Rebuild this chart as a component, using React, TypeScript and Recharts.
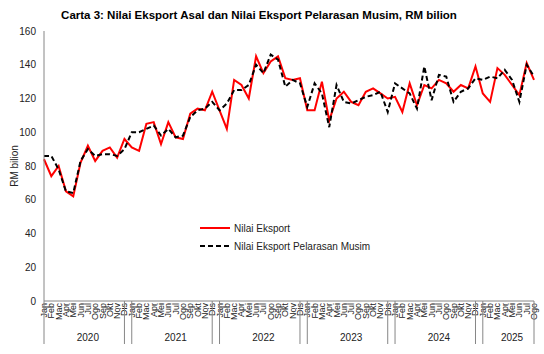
import { Legend, Line, LineChart, XAxis, YAxis } from "recharts";

const years = ["2020", "2021", "2022", "2023", "2024", "2025"];
const monthNames = ["Jan", "Feb", "Mac", "Apr", "Mei", "Jun", "Jul", "Ogo", "Sep", "Okt", "Nov", "Dis"];
const monthsPerYear = [12, 12, 12, 12, 12, 8];

// Nilai Eksport (asal), RM bilion
const nilaiEksport = [
  84, 74, 80, 65, 62, 82, 92, 83, 89, 91, 85, 96,
  91, 89, 105, 106, 93, 106, 97, 96, 111, 114, 113, 124,
  113, 102, 131, 128, 120, 145, 135, 142, 145, 132, 131, 132,
  113, 113, 130, 107, 120, 124, 118, 116, 124, 126, 123, 120,
  121, 112, 129, 116, 128, 126, 131, 129, 124, 128, 126, 139,
  123, 118, 138, 134, 128, 122, 141, 131,
];

// Nilai Eksport Pelarasan Musim, RM bilion
const pelarasanMusim = [
  86, 86, 78, 65, 64, 83, 90, 86, 87, 87, 86, 90,
  100, 100, 102, 104, 98, 102, 97, 98, 109, 113, 114, 118,
  113, 117, 125, 125, 128, 140, 135, 146, 143, 127, 131, 129,
  115, 129, 123, 103, 128, 118, 117, 119, 121, 122, 124, 112,
  129, 126, 123, 114, 139, 119, 134, 133, 118, 124, 126, 132,
  131, 133, 132, 137, 131, 118, 140, 133,
];

const yTicks = [0, 20, 40, 60, 80, 100, 120, 140, 160];

const series = [
  { key: "ne", name: "Nilai Eksport", color: "#FF0000", dash: undefined as string | undefined },
  { key: "pm", name: "Nilai Eksport Pelarasan Musim", color: "#000000", dash: "5 3" },
];

const FONT = "'Liberation Sans', Arial, sans-serif";
const AXIS = "#868686";

type Row = { key: string; month: string; year: string; pos: number; count: number; ne: number; pm: number };

const data: Row[] = [];
years.forEach((year, yi) => {
  for (let m = 0; m < monthsPerYear[yi]; m++) {
    const i = data.length;
    data.push({
      key: `${year}-${monthNames[m]}`,
      month: monthNames[m],
      year,
      pos: m,
      count: monthsPerYear[yi],
      ne: nilaiEksport[i],
      pm: pelarasanMusim[i],
    });
  }
});
const byKey = new Map(data.map((d) => [d.key, d]));

function MonthTick(props: any) {
  const { x, y, payload } = props;
  const row = byKey.get(payload.value);
  if (!row) return null;
  const half = payload.offset ?? 490 / data.length / 2;
  const axisY = y;
  return (
    <g>
      <text
        transform={`translate(${x},${axisY + 2}) rotate(-90)`}
        textAnchor="end"
        dominantBaseline="central"
        fontSize={9}
        fontFamily={FONT}
        fill="#222"
      >
        {row.month}
      </text>
      {row.pos === 0 && (
        <line x1={x - half} x2={x - half} y1={axisY} y2={axisY + 43} stroke={AXIS} />
      )}
      {row.pos === row.count - 1 && (
        <line x1={x + half} x2={x + half} y1={axisY} y2={axisY + 43} stroke={AXIS} />
      )}
      {row.pos === Math.floor(row.count / 2) && (
        <text x={x - half} y={axisY + 40} textAnchor="middle" fontSize={10} fontFamily={FONT} fill="#222">
          {row.year}
        </text>
      )}
    </g>
  );
}

function LegendBox() {
  return (
    <div style={{ fontFamily: FONT, fontSize: 10, color: "#222" }}>
      {series.map((s) => (
        <div key={s.key} style={{ display: "flex", alignItems: "center", height: 18 }}>
          <svg width={36} height={10}>
            <line x1={2} x2={32} y1={5} y2={5} stroke={s.color} strokeWidth={2} strokeDasharray={s.dash} />
          </svg>
          <span>{s.name}</span>
        </div>
      ))}
    </div>
  );
}

export default function App() {
  return (
    <div style={{ position: "absolute", left: 0, top: 0, width: 544, height: 354, background: "#fff" }}>
      <div
        style={{
          position: "absolute",
          left: 0,
          top: 9,
          width: 518,
          textAlign: "center",
          fontFamily: FONT,
          fontWeight: "bold",
          fontSize: 11.5,
          color: "#000",
        }}
      >
        Carta 3: Nilai Eksport Asal dan Nilai Eksport Pelarasan Musim, RM bilion
      </div>
      <LineChart width={544} height={354} data={data} margin={{ top: 31, right: 10, bottom: 0, left: 0 }}>
        <XAxis
          dataKey="key"
          interval={0}
          tickLine={false}
          tickSize={0}
          tickMargin={0}
          axisLine={{ stroke: AXIS }}
          tick={(p: any) => <MonthTick {...p} />}
          height={53}
        />
        <YAxis
          domain={[0, 160]}
          ticks={yTicks}
          width={44}
          tickLine={false}
          axisLine={{ stroke: AXIS }}
          tick={{ fontSize: 10, fontFamily: FONT, fill: "#222" }}
          label={(p: any) => {
            const vb = p.viewBox || {};
            const cy = (vb.y ?? 31) + (vb.height ?? 270) / 2;
            return (
              <text
                transform={`translate(14,${cy}) rotate(-90)`}
                textAnchor="middle"
                dominantBaseline="central"
                fontSize={10}
                fontFamily={FONT}
                fill="#222"
              >
                RM bilion
              </text>
            );
          }}
        />
        <Legend
          layout="vertical"
          align="center"
          verticalAlign="middle"
          content={() => <LegendBox />}
          wrapperStyle={{ left: 198, top: 219, width: 220 }}
        />
        {series.map((s) => (
          <Line
            key={s.key}
            type="linear"
            dataKey={s.key}
            name={s.name}
            stroke={s.color}
            strokeWidth={2}
            strokeDasharray={s.dash}
            dot={false}
            activeDot={false}
            isAnimationActive={false}
          />
        ))}
      </LineChart>
    </div>
  );
}
